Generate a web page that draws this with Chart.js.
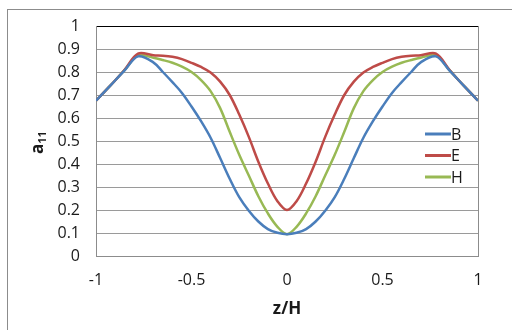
<!DOCTYPE html>
<html>
<head>
<meta charset="utf-8">
<script src="https://cdn.jsdelivr.net/npm/chart.js@4"></script>
<style>
	html, body { margin: 0; padding: 0; background: #fff; }
	#wrap { position: relative; width: 512px; height: 330px; overflow: hidden; }
	#frame { position: absolute; left: 7px; top: 9px; width: 600px; height: 400px; border-left: 1px solid #8c8c8c; border-top: 1px solid #8c8c8c; }
	canvas { position: absolute; left: 0; top: 0; }
</style>
</head>
<body>
<div id="wrap">
	<div id="frame"></div>
	<canvas id="chart" width="512" height="330"></canvas>
</div>
<script>
// Data.
var zValues = [-1, -0.95, -0.9, -0.85, -0.78, -0.7, -0.65, -0.6, -0.55, -0.5, -0.45, -0.4, -0.35, -0.3, -0.25, -0.2, -0.15, -0.1, -0.05, 0,
	0.05, 0.1, 0.15, 0.2, 0.25, 0.3, 0.35, 0.4, 0.45, 0.5, 0.55, 0.6, 0.65, 0.7, 0.78, 0.85, 0.9, 0.95, 1];
var bValues = [0.675, 0.719, 0.763, 0.807, 0.868, 0.842, 0.800, 0.756, 0.709, 0.650, 0.586, 0.514, 0.426, 0.336, 0.256, 0.197, 0.150, 0.117, 0.101, 0.095,
	0.101, 0.117, 0.150, 0.197, 0.256, 0.336, 0.426, 0.514, 0.586, 0.650, 0.709, 0.756, 0.800, 0.842, 0.868, 0.807, 0.763, 0.719, 0.675];
var eValues = [0.675, 0.719, 0.763, 0.810, 0.880, 0.873, 0.871, 0.866, 0.856, 0.840, 0.822, 0.798, 0.758, 0.700, 0.615, 0.518, 0.410, 0.315, 0.238, 0.200,
	0.238, 0.315, 0.410, 0.518, 0.615, 0.700, 0.758, 0.798, 0.822, 0.840, 0.856, 0.866, 0.871, 0.873, 0.880, 0.810, 0.763, 0.719, 0.675];
var hValues = [0.675, 0.719, 0.763, 0.809, 0.872, 0.862, 0.852, 0.840, 0.823, 0.800, 0.765, 0.717, 0.643, 0.540, 0.440, 0.350, 0.260, 0.185, 0.127, 0.095,
	0.127, 0.185, 0.260, 0.350, 0.440, 0.540, 0.643, 0.717, 0.765, 0.800, 0.823, 0.840, 0.852, 0.862, 0.872, 0.809, 0.763, 0.719, 0.675];
var seriesNames = ["B", "E", "H"];
var seriesColors = ["#4a7ebb", "#be4b48", "#98b954"];

var FONT = "'Open Sans', sans-serif";

function points(values) {
	return zValues.map(function (z, i) { return { x: z, y: values[i] }; });
}

// Axis titles and the in-plot legend.
var extras = {
	id: 'extras',
	afterDraw: function (chart) {
		var ctx = chart.ctx, area = chart.chartArea;
		ctx.save();
		ctx.fillStyle = '#1a1a1a';

		// x title
		ctx.font = "bold 17px " + FONT;
		ctx.textAlign = 'center';
		ctx.textBaseline = 'middle';
		ctx.fillText('z/H', (area.left + area.right) / 2, 309);

		// y title with subscript
		ctx.save();
		ctx.translate(43, 154);
		ctx.rotate(-Math.PI / 2);
		ctx.textAlign = 'left';
		ctx.textBaseline = 'alphabetic';
		ctx.font = "bold 17px " + FONT;
		ctx.fillText('a', 0, 0);
		var w = ctx.measureText('a').width;
		ctx.font = "bold 11px " + FONT;
		ctx.fillText('11', w, 3);
		ctx.restore();

		// legend
		chart.data.datasets.forEach(function (ds, i) {
			var y = 134 + i * 21.5;
			ctx.strokeStyle = ds.borderColor;
			ctx.lineWidth = 3;
			ctx.beginPath();
			ctx.moveTo(425, y);
			ctx.lineTo(451, y);
			ctx.stroke();
			ctx.font = "16px " + FONT;
			ctx.textAlign = 'left';
			ctx.textBaseline = 'middle';
			ctx.fillStyle = '#1a1a1a';
			ctx.fillText(ds.label, 451, y + 1);
		});
		ctx.restore();
	}
};

new Chart(document.getElementById("chart"), {
	type: 'scatter',
	data: {
		datasets: seriesNames.map(function (name, i) {
			return {
				label: name,
				data: points([bValues, eValues, hValues][i]),
				showLine: true,
				borderColor: seriesColors[i],
				backgroundColor: seriesColors[i],
				borderWidth: 2.5,
				pointRadius: 0,
				tension: 0.35
			};
		})
	},
	options: {
		responsive: false,
		animation: false,
		layout: { padding: { left: 0, top: 26, right: 34, bottom: 0 } },
		plugins: {
			legend: { display: false },
			tooltip: { enabled: false }
		},
		scales: {
			x: {
				type: 'linear',
				min: -1,
				max: 1,
				afterFit: function (s) { s.height = 74; },
				grid: {
					drawTicks: false,
					color: function (c) { return (c.tick && c.tick.value === 1) ? '#8c8c8c' : 'rgba(0,0,0,0)'; }
				},
				border: { display: true, color: '#8c8c8c' },
				ticks: {
					stepSize: 0.5,
					padding: 15,
					color: '#1a1a1a',
					autoSkip: false,
					font: { family: FONT, size: 16 },
					maxRotation: 0,
					callback: function (v) { return String(+v.toFixed(1)); }
				}
			},
			y: {
				min: 0,
				max: 1,
				afterFit: function (s) { s.width = 96; },
				grid: {
					drawTicks: false,
					color: function (c) { return (c.tick && c.tick.value === 1) ? '#000000' : '#9a9a9a'; }
				},
				border: { display: true, color: '#8c8c8c' },
				ticks: {
					stepSize: 0.1,
					padding: 16,
					color: '#1a1a1a',
					autoSkip: false,
					font: { family: FONT, size: 16 },
					callback: function (v) { return String(+v.toFixed(1)); }
				}
			}
		}
	},
	plugins: [extras]
});
</script>
</body>
</html>
